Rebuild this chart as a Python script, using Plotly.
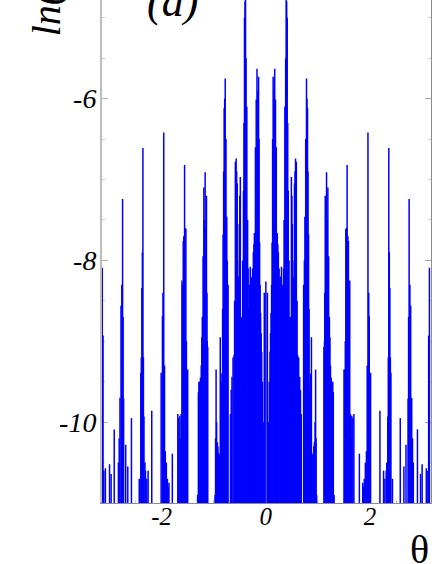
import plotly.graph_objects as go

theta_right = [0.00, 0.03, 0.05, 0.08, 0.10, 0.12, 0.14, 0.17, 0.185, 0.22, 0.24, 0.27, 0.30, 0.33, 0.35, 0.365,
               0.39, 0.41, 0.43, 0.46, 0.49, 0.51, 0.535, 0.55, 0.57, 0.585, 0.61, 0.65, 0.68, 0.725, 0.75, 0.78,
               0.80, 0.82, 0.84, 0.86, 0.875, 0.91, 0.93, 0.955, 0.975, 1.115, 1.14, 1.165, 1.19, 1.205, 1.23,
               1.255, 1.295, 1.31, 1.50, 1.535, 1.56, 1.585, 1.61, 1.64, 1.65, 1.69, 1.795, 1.86, 1.875, 1.91,
               1.93, 1.96, 1.985, 2.01, 2.19, 2.26, 2.285, 2.32, 2.34, 2.36, 2.38, 2.40, 2.43, 2.58, 2.65, 2.69,
               2.73, 2.75, 2.78, 2.83, 2.91, 2.97, 3.00, 3.08, 3.11, 3.125, 3.14]
value_right = [-8.26, -8.4, -10.0, -9.13, -8.65, -7.78, -5.73, -5.63, -6.01, -7.66, -7.9, -8.22, -8.08, -8.6, -7.5, -6.1,
               -4.6, -5.0, -7.14, -8.7, -6.97, -7.55, -8.65, -7.05, -6.74, -6.78, -9.17, -9.44, -9.9, -8.3, -7.46, -5.75,
               -6.12, -7.68, -9.6, -9.4, -8.95, -10.38, -10.25, -9.35, -10.9, -9.07, -7.2, -6.91, -7.1, -7.95, -8.95,
               -9.45, -9.63, -10.9, -9.35, -7.61, -6.82, -7.76, -8.25, -10.2, -9.92, -9.9, -10.39, -10.75, -10.8, -10.5,
               -10.36, -6.42, -8.69, -9.39, -9.86, -10.6, -10.7, -10.5, -9.93, -6.61, -8.34, -9.39, -10.7, -9.95, -10.55, -10.28,
               -9.71, -7.24, -8.56, -10.5, -10.09, -10.64, -10.52, -10.57, -10.6, -8.93, -8.09]
theta_shoulder = [0.065, 0.09, 0.11, 0.13, 0.155, 0.20, 0.23, 0.255, 0.285, 0.315, 0.34, 0.38, 0.40, 0.42, 0.445,
                  0.475, 0.50, 0.525, 0.545, 0.56, 0.60, 0.63, 0.665, 0.74, 0.765, 0.79, 0.81, 0.83, 0.85, 0.89,
                  0.92, 0.945, 0.965, 1.125, 1.13, 1.15, 1.18, 1.22, 1.24, 1.27, 1.285, 1.515, 1.525, 1.55, 1.575,
                  1.60, 1.625, 1.67, 1.89, 1.945, 1.975, 2.31, 2.35, 2.37, 2.39, 2.74, 2.765, 2.80, 2.815]
value_shoulder = [-9.5, -8.9, -8.3, -6.5, -5.9, -6.6, -7.8, -8.1, -8.2, -8.3, -8.1, -5.5, -4.8, -6.3, -8.0,
                  -8.7, -7.2, -8.2, -8.0, -6.9, -8.5, -9.2, -9.6, -8.0, -6.5, -6.0, -6.9, -8.6, -9.5, -10.4,
                  -10.3, -10.0, -10.2, -9.0, -8.4, -7.6, -7.5, -8.7, -9.3, -9.5, -9.5, -9.35, -9.0, -7.6, -7.7,
                  -8.3, -9.9, -9.95, -10.7, -9.3, -8.4, -10.6, -9.2, -7.9, -9.2, -8.7, -8.3, -9.7, -10.2]
floor_value = -11.5

y_ticks = [-6, -8, -10]
y_labels = ["-6", "-8", "-10"]
y_minor = [-5, -5.5, -6.5, -7, -7.5, -8.5, -9, -9.5, -10.5]
x_ticks = [-2, 0, 2]
x_labels = ["-2", "0", "2"]
x_minor = [-3, -2.5, -1.5, -1, -0.5, 0.5, 1, 1.5, 2.5, 3]

xs, ys = [], []
for t, v in list(zip(theta_right, value_right)) + list(zip(theta_shoulder, value_shoulder)):
    xs += [t, t, None]
    ys += [floor_value, v, None]
    if t > 0:
        xs += [-t, -t, None]
        ys += [floor_value, v, None]

SERIF = "Liberation Serif"
fig = go.Figure()
fig.add_trace(go.Scatter(x=xs, y=ys, mode="lines", line=dict(color="#0000ff", width=1.5),
                         connectgaps=False, showlegend=False, hoverinfo="skip"))
fig.add_trace(go.Scatter(x=[None], y=[None], yaxis="y2", showlegend=False))

fig.update_layout(
    width=436, height=564, paper_bgcolor="white", plot_bgcolor="white", showlegend=False,
    margin=dict(l=102, r=5, t=0, b=61),
    xaxis=dict(range=[-3.145, 3.17], tickmode="array", tickvals=x_ticks, ticktext=x_labels,
               ticks="inside", ticklen=5, tickcolor="#b0b0b0", showgrid=False, zeroline=False,
               showline=True, linecolor="#8c8c8c", linewidth=1, layer="below traces", ticklabelstandoff=-9,
               tickfont=dict(family=SERIF, size=25, style="italic", color="black"),
               minor=dict(tickmode="array", tickvals=x_minor, ticks="inside", ticklen=3, tickcolor="#c8c8c8")),
    yaxis=dict(range=[-11, -4.78], tickmode="array", tickvals=y_ticks, ticktext=y_labels,
               ticks="inside", ticklen=6, tickcolor="#b0b0b0", showgrid=False, zeroline=False,
               showline=True, linecolor="#bcbcbc", linewidth=2, layer="below traces", ticklabelstandoff=-2,
               tickfont=dict(family=SERIF, size=28, style="italic", color="black"),
               minor=dict(tickmode="array", tickvals=y_minor, ticks="inside", ticklen=3, tickcolor="#c8c8c8")),
    yaxis2=dict(range=[-11, -4.78], overlaying="y", side="right", tickmode="array", tickvals=y_ticks,
                ticktext=["", "", ""], ticks="inside", ticklen=6, tickcolor="#a8a8a8", showgrid=False,
                zeroline=False, showline=True, linecolor="#8c8c8c", linewidth=1, layer="below traces",
                minor=dict(tickmode="array", tickvals=y_minor, ticks="inside", ticklen=3, tickcolor="#c8c8c8")),
    annotations=[
        dict(text="θ", xref="paper", yref="paper", x=1.0, y=-0.093, xanchor="right", yanchor="middle",
             showarrow=False, font=dict(family=SERIF, size=40, color="black")),
        dict(text="(a)", xref="x", yref="y", x=-1.8, y=-4.8, xanchor="center", yanchor="middle",
             showarrow=False, font=dict(family=SERIF, size=44, style="italic", color="black")),
        dict(text="ln(P)", xref="paper", yref="paper", x=-0.17, y=0.924, xanchor="center", yanchor="bottom",
             textangle=-90, showarrow=False, font=dict(family=SERIF, size=40, style="italic", color="black")),
    ],
)
fig.write_html("out.html", config={"displayModeBar": False}, post_script="document.body.style.margin='0';")
